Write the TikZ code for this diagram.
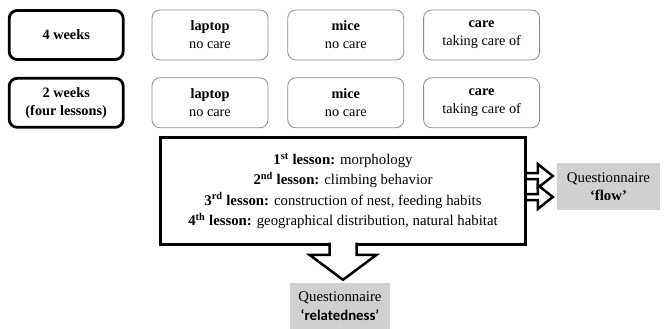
\documentclass[tikz,border=0pt]{standalone}
\usepackage{fontspec}
\setmainfont{Liberation Serif}
\newfontfamily\relfont{Carlito}
\usetikzlibrary{positioning,calc}
\definecolor{boxgray}{RGB}{140,140,140}
\definecolor{questgray}{RGB}{208,208,208}
\newcommand{\boxfont}{\fontsize{14.3pt}{18pt}\selectfont}
\newcommand{\lessonfont}{\fontsize{14.8pt}{20.3pt}\selectfont}
\newcommand{\questfont}{\fontsize{14.8pt}{18.5pt}\selectfont}
\tikzset{
  x=1pt, y=1pt,
  weekbox/.style   = {draw, line width=2.8pt, rounded corners=8pt,
                      minimum width=114pt, minimum height=49pt,
                      align=center, font=\boxfont},
  groupbox/.style  = {draw=boxgray, line width=0.8pt, rounded corners=8pt,
                      minimum width=116pt, minimum height=50pt,
                      align=center, font=\boxfont},
  lessonbox/.style = {draw, line width=3pt, outer sep=0pt,
                      minimum width=365pt, minimum height=106pt,
                      align=center, font=\lessonfont},
  questbox/.style  = {fill=questgray, align=center, font=\questfont},
  hollow/.style    = {draw, fill=white, line width=2.5pt, line join=miter}
}
\newcommand{\DrawRightArrow}[3]{%
  % hollow arrow from the east side of #1 to #2, shifted up by #3
  \draw[hollow] let \p1 = (#1.east), \p2 = (#2.west) in
    (\x1+1.5pt,\y2+#3+3pt) -- (\x2-19pt,\y2+#3+3pt) -- (\x2-19pt,\y2+#3+12pt)
    -- (\x2-4pt,\y2+#3) -- (\x2-19pt,\y2+#3-12pt) -- (\x2-19pt,\y2+#3-3pt)
    -- (\x1+1.5pt,\y2+#3-3pt);
}
\newcommand{\DrawDownArrow}[2]{%
  % hollow arrow from the south side of #1 down to #2
  \draw[hollow] let \p1 = (#1.south), \p2 = (#2.north) in
    (\x1-13.5pt,\y1+1.5pt) -- (\x1-13.5pt,\y2+28pt) -- (\x1-33.5pt,\y2+28pt)
    -- (\x1,\y2+3pt) -- (\x1+33.5pt,\y2+28pt) -- (\x1+13.5pt,\y2+28pt)
    -- (\x1+13.5pt,\y1+1.5pt);
}

\begin{document}
\begin{tikzpicture}
  \useasboundingbox (0,0) rectangle (665,-329);

  % first row: four weeks
  \node[groupbox] (laptopA) at (210,-35) {\textbf{laptop}\\no care};
  \node[groupbox, right=19pt of laptopA] (miceA) {\textbf{mice}\\no care};
  \node[groupbox, right=19pt of miceA] (careA) {\textbf{care}\\taking care of};
  \node[weekbox, left=27pt of laptopA] (weekA) {\textbf{4 weeks}};

  % second row: two weeks
  \node[groupbox, below=17pt of laptopA] (laptopB) {\textbf{laptop}\\no care};
  \node[groupbox, right=19pt of laptopB] (miceB) {\textbf{mice}\\no care};
  \node[groupbox, right=19pt of miceB] (careB) {\textbf{care}\\taking care of};
  \node[weekbox, left=27pt of laptopB] (weekB) {\textbf{2 weeks}\\\textbf{(four lessons)}};

  % lessons
  \node[lessonbox] (lessons) at (343,-191) {%
    \textbf{1\textsuperscript{st} lesson:} morphology\\
    \textbf{2\textsuperscript{nd} lesson:} climbing behavior\\
    \textbf{3\textsuperscript{rd} lesson:} construction of nest, feeding habits\\
    \textbf{4\textsuperscript{th} lesson:} geographical distribution, natural habitat};

  % questionnaires
  \node[questbox, minimum width=103pt, minimum height=47pt] (flow) at (608.5,-186.5)
    {Questionnaire\\\textbf{‘flow’}};
  \node[questbox, minimum width=100pt, minimum height=46pt] (related) at (340,-306)
    {Questionnaire\\{\relfont\bfseries ‘relatedness’}};

  \DrawRightArrow{lessons}{flow}{10.5pt}
  \DrawRightArrow{lessons}{flow}{-10.5pt}
  \DrawDownArrow{lessons}{related}
\end{tikzpicture}
\end{document}
